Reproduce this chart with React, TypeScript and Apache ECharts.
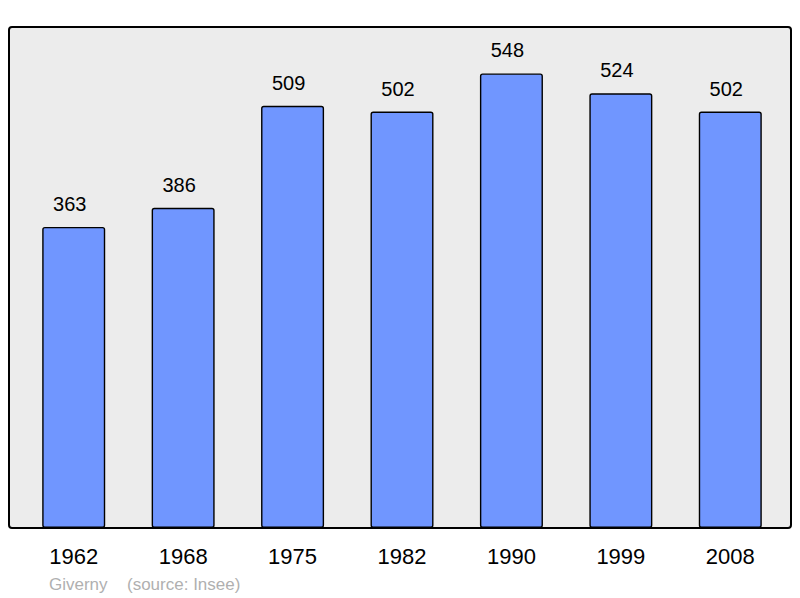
import React, { useEffect, useRef } from "react";
import * as echarts from "echarts";

const years = ["1962", "1968", "1975", "1982", "1990", "1999", "2008"];
const population = [363, 386, 509, 502, 548, 524, 502];
const footerLeft = "Giverny";
const footerRight = "(source: Insee)";

export default function App() {
  const ref = useRef<HTMLDivElement>(null);
  useEffect(() => {
    document.body.style.margin = "0";
    const chart = echarts.init(ref.current!, undefined, { renderer: "svg" });
    chart.setOption({
      animation: false,
      backgroundColor: "#ffffff",
      textStyle: { fontFamily: "Liberation Sans, Arial, sans-serif" },
      grid: { left: 19, right: 15, top: 27, bottom: 70 },
      graphic: [
        {
          type: "rect",
          z: -10,
          shape: { x: 9, y: 27, width: 782, height: 501, r: 3 },
          style: { fill: "#ececec", stroke: "#000000", lineWidth: 2 },
        },
        {
          type: "text",
          x: 49,
          y: 584,
          style: {
            text: footerLeft,
            fill: "#b0b0b0",
            fontSize: 17,
            fontFamily: "Liberation Sans, Arial, sans-serif",
            verticalAlign: "middle",
          },
        },
        {
          type: "text",
          x: 127,
          y: 584,
          style: {
            text: footerRight,
            fill: "#b0b0b0",
            fontSize: 17,
            fontFamily: "Liberation Sans, Arial, sans-serif",
            verticalAlign: "middle",
          },
        },
      ],
      xAxis: {
        type: "category",
        data: years,
        axisLine: { show: false },
        axisTick: { show: false },
        axisLabel: {
          color: "#000000",
          fontSize: 22,
          margin: 17,
          fontFamily: "Liberation Sans, Arial, sans-serif",
        },
      },
      yAxis: {
        type: "value",
        min: 0,
        max: 604,
        show: false,
        splitLine: { show: false },
      },
      series: [
        {
          type: "bar",
          data: population,
          barWidth: 63,
          z: 2,
          itemStyle: {
            color: "#7096ff",
            borderColor: "#000000",
            borderWidth: 1.4,
            borderRadius: 2,
          },
          label: {
            show: true,
            position: "top",
            distance: 12,
            offset: [-4, -1],
            color: "#000000",
            fontSize: 20,
            fontFamily: "Liberation Sans, Arial, sans-serif",
          },
        },
      ],
    });
    return () => chart.dispose();
  }, []);
  return (
    <div
      ref={ref}
      style={{ position: "fixed", left: 0, top: 0, width: 800, height: 598 }}
    />
  );
}
